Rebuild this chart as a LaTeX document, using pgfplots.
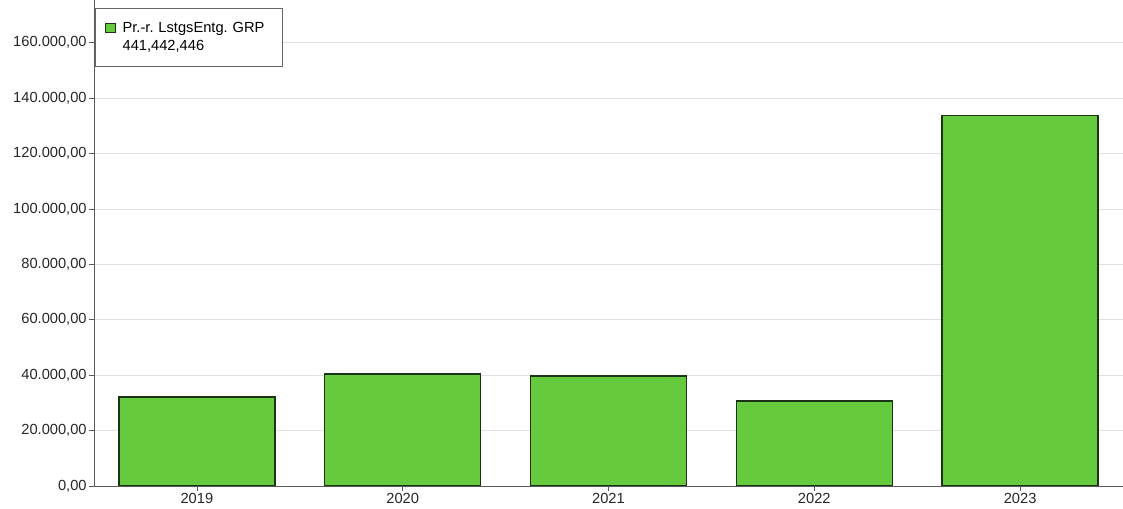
\documentclass[border=0pt]{standalone}
\usepackage{pgfplots}
\pgfplotsset{compat=1.18}
\usepackage{fontspec}
\setmainfont{Liberation Sans}
\frenchspacing
\definecolor{barfill}{RGB}{102,202,62}
\definecolor{baredge}{RGB}{28,52,20}
\begin{document}
\begin{tikzpicture}
\begin{axis}[
  scale only axis,
  width=771.75pt, height=364.5pt,
  xmin=-0.5, xmax=4.5,
  ymin=0, ymax=175400,
  axis x line*=bottom, axis y line*=left,
  axis line style={draw=black!65, line width=0.6pt},
  xtick={0,1,2,3,4},
  xticklabels={2019,2020,2021,2022,2023},
  ytick={0,20000,40000,60000,80000,100000,120000,140000,160000},
  yticklabels={{0,00},{20.000,00},{40.000,00},{60.000,00},{80.000,00},{100.000,00},{120.000,00},{140.000,00},{160.000,00}},
  tick style={draw=black!65, line width=0.6pt},
  major tick length=3.5pt,
  tick align=outside,
  ymajorgrids,
  grid style={draw=black!12, line width=0.6pt},
  tick label style={font=\fontsize{11pt}{12pt}\selectfont, text=black!85},
  xticklabel style={yshift=1.5pt},
  yticklabel style={xshift=1.5pt},
  legend style={at={(0.001,0.9835)}, anchor=north west, draw=black!60, line width=0.5pt,
    font=\fontsize{11pt}{12pt}\selectfont, inner xsep=2pt, inner ysep=8.5pt,
    row sep=0pt,
    nodes={text width=116pt, align=left},
    legend cell align=left},
  legend image code/.code={\draw[#1, line width=0.3pt] (0.18cm,-0.11cm) rectangle (0.44cm,0.15cm); \path (0.56cm,0);},
]
\addplot[ybar, bar width=117pt, fill=barfill, draw=baredge, line width=1pt] coordinates {
  (0,32100) (1,40400) (2,39700) (3,30700) (4,133600)
};
\addlegendentry{Pr.-r. LstgsEntg. GRP}
\addlegendimage{empty legend}
\addlegendentry{441,442,446}
\end{axis}
\pgfresetboundingbox
\path (current axis.south west) ++(-70.5pt,-17.25pt) rectangle ++(842.25pt,381.75pt);
\end{tikzpicture}
\end{document}
